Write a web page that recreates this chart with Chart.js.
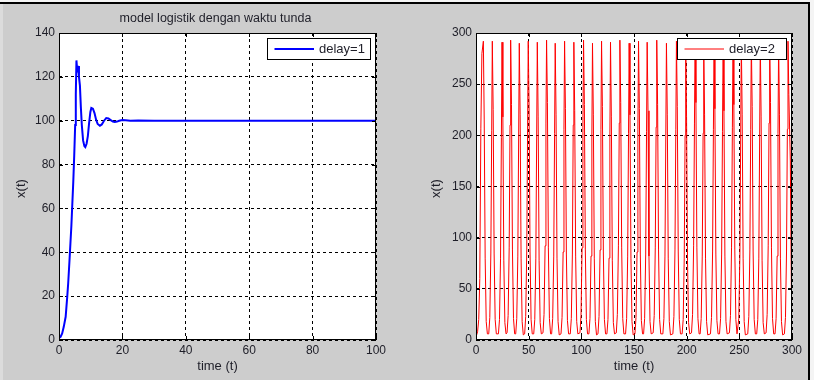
<!DOCTYPE html>
<html>
<head>
<meta charset="utf-8">
<script src="https://cdn.jsdelivr.net/npm/chart.js@4.4.1/dist/chart.umd.min.js"></script>
<style>
  html, body { margin: 0; padding: 0; }
  body { width: 814px; height: 380px; background: #cdcdcd; position: relative; overflow: hidden; font-family: "Liberation Sans", Arial, sans-serif; }
  #topwhite { position: absolute; left: 0; top: 0; width: 814px; height: 2px; background: #f4f4f4; }
  #topline { position: absolute; left: 0; top: 2px; width: 810px; height: 2px; background: #000; }
  #leftstrip { position: absolute; left: 0; top: 4px; width: 3px; height: 376px; background: #dcdcdc; }
  #rightline { position: absolute; left: 808px; top: 2px; width: 2px; height: 378px; background: #000; }
  #rightwhite { position: absolute; left: 810px; top: 0; width: 4px; height: 380px; background: #f4f4f4; }
  .pane { position: absolute; top: 0; height: 380px; }
</style>
</head>
<body>
<div id="topwhite"></div><div id="topline"></div><div id="leftstrip"></div>
<div id="rightline"></div><div id="rightwhite"></div>
<div class="pane" style="left:0;width:400px"><canvas id="c1" width="400" height="380"></canvas></div>
<div class="pane" style="left:400px;width:408px"><canvas id="c2" width="408" height="380"></canvas></div>
<script>
// ---------- DATA ----------
const title1 = "model logistik dengan waktu tunda";
const xLabel = "time (t)";
const yLabel = "x(t)";
const legend1 = "delay=1";
const legend2 = "delay=2";

const xTicks1 = [0, 20, 40, 60, 80, 100];
const yTicks1 = [0, 20, 40, 60, 80, 100, 120, 140];
const xTicks2 = [0, 50, 100, 150, 200, 250, 300];
const yTicks2 = [0, 50, 100, 150, 200, 250, 300];

// delay = 1
const time1 = [0, 0.5, 1.0, 1.5, 2.1, 2.6, 2.9, 3.3, 3.6, 3.9, 4.2, 4.5, 4.8, 5.1, 5.3, 5.5,
  5.8, 6.0, 6.3, 6.6, 6.9, 7.2, 7.6, 8.0, 8.3, 8.7, 9.1, 9.5, 9.9, 10.2, 10.7, 11.2, 11.7,
  12.2, 12.9, 13.5, 14.2, 14.9, 15.6, 16.3, 17.0, 17.6, 18.3, 19.0, 20.0, 21.0, 22.5, 25.0,
  30, 40, 50, 60, 70, 80, 90, 100];
const x1 = [1, 1.5, 3, 6, 10.6, 19.8, 25.9, 36, 44, 52, 62, 72, 84, 98, 112, 127.5,
  122, 125, 120, 116, 106, 98, 91, 88.5, 88, 89.5, 93, 99, 104, 105.8, 105.5, 103.5, 100.5,
  98.5, 97.7, 98.3, 100, 101.2, 101, 100.3, 99.6, 99.4, 99.6, 100, 100.3, 100.2, 100, 100.1,
  100, 100, 100, 100, 100, 100, 100, 100];

// delay = 2
const time2 = [
  0, 1.5, 2.6, 3.6, 4.6, 5.6, 7.0, 7.8, 8.7, 9.7, 10.8,
  12.1, 13.1, 14.1, 14.9, 15.5, 16.3, 17.2, 18.2, 19.3,
  21.3, 22.3, 23.3, 24.1, 24.7, 25.5, 26.4, 27.4, 28.5,
  29.5, 30.5, 31.5, 32.3, 32.9, 33.7, 34.6, 35.6, 36.7,
  37.7, 38.7, 39.7, 40.5, 41.1, 41.9, 42.8, 43.8, 44.9,
  46.2, 47.2, 48.2, 49.0, 49.6, 50.4, 51.3, 52.3, 53.4,
  54.8, 55.8, 56.8, 57.6, 58.2, 59.0, 59.9, 60.9, 62.0,
  63.6, 64.6, 65.6, 66.4, 67.0, 67.8, 68.7, 69.7, 70.8,
  71.8, 72.8, 73.8, 74.6, 75.2, 76.0, 76.9, 77.9, 79.0,
  80.7, 81.7, 82.7, 83.5, 84.1, 84.9, 85.8, 86.8, 87.9,
  89.5, 90.5, 91.5, 92.3, 92.9, 93.7, 94.6, 95.6, 96.7,
  98.7, 99.7, 100.7, 101.5, 102.1, 102.9, 103.8, 104.8, 105.9,
  107.2, 108.2, 109.2, 110.0, 110.6, 111.4, 112.3, 113.3, 114.4,
  115.8, 116.8, 117.8, 118.6, 119.2, 120.0, 120.9, 121.9, 123.0,
  124.3, 125.3, 126.3, 127.1, 127.7, 128.5, 129.4, 130.4, 131.5,
  133.2, 134.2, 135.2, 136.0, 136.6, 137.4, 138.3, 139.3, 140.4,
  142.0, 143.0, 144.0, 144.8, 145.4, 146.2, 147.1, 148.1, 149.2,
  150.9, 151.9, 152.9, 153.7, 154.3, 155.1, 156.0, 157.0, 158.1,
  159.1, 160.1, 161.1, 161.9, 162.5, 163.3, 164.2, 165.2, 166.3,
  168.2, 169.2, 170.2, 171.0, 171.6, 172.4, 173.3, 174.3, 175.4,
  177.4, 178.4, 179.4, 180.2, 180.8, 181.6, 182.5, 183.5, 184.6,
  186.9, 187.9, 188.9, 189.7, 190.3, 191.1, 192.0, 193.0, 194.1,
  195.7, 196.7, 197.7, 198.5, 199.1, 199.9, 200.8, 201.8, 202.9,
  204.6, 205.6, 206.6, 207.4, 208.0, 208.8, 209.7, 210.7, 211.8,
  212.8, 213.8, 214.8, 215.6, 216.2, 217.0, 217.9, 218.9, 220.0,
  222.6, 223.6, 224.6, 225.4, 226.0, 226.8, 227.7, 228.7, 229.8,
  231.2, 232.2, 233.2, 234.0, 234.6, 235.4, 236.3, 237.3, 238.4,
  240.6, 241.6, 242.6, 243.4, 244.0, 244.8, 245.7, 246.7, 247.8,
  248.5, 249.5, 250.5, 251.3, 251.9, 252.7, 253.6, 254.6, 255.7,
  258.0, 259.0, 260.0, 260.8, 261.4, 262.2, 263.1, 264.1, 265.2,
  266.5, 267.5, 268.5, 269.3, 269.9, 270.7, 271.6, 272.6, 273.7,
  275.4, 276.4, 277.4, 278.2, 278.8, 279.6, 280.5, 281.5, 282.6,
  283.9, 284.9, 285.9, 286.7, 287.3, 288.1, 289.0, 290.0, 291.1,
  292.8, 293.8, 294.8, 295.6, 296.2, 297.0, 298.4, 299.4, 300.0];
const x2 = [
  3, 8, 20, 60, 207, 280, 292, 215, 80, 18, 6,
  6, 22, 85, 205, 292, 225, 85, 20, 6,
  6, 20, 80, 198, 291, 218, 78, 17, 6,
  7, 24, 90, 210, 293, 230, 88, 21, 6,
  6, 21, 82, 200, 290, 220, 80, 18, 5,
  6, 23, 88, 210, 292, 228, 86, 20, 6,
  6, 20, 80, 200, 291, 218, 78, 17, 6,
  7, 25, 92, 212, 293, 232, 90, 21, 6,
  6, 21, 82, 202, 290, 220, 80, 18, 5,
  6, 22, 86, 206, 292, 226, 84, 19, 6,
  6, 21, 84, 210, 291, 224, 82, 18, 6,
  7, 24, 90, 208, 293, 230, 88, 20, 6,
  6, 21, 82, 200, 290, 220, 80, 18, 5,
  6, 23, 88, 206, 292, 228, 86, 20, 6,
  6, 20, 80, 200, 291, 218, 78, 17, 6,
  7, 25, 92, 212, 293, 232, 90, 21, 6,
  6, 21, 82, 202, 290, 220, 80, 18, 5,
  6, 22, 86, 206, 292, 226, 84, 19, 6,
  6, 21, 84, 204, 291, 224, 82, 18, 6,
  7, 24, 90, 208, 293, 230, 88, 20, 6,
  6, 21, 82, 200, 290, 220, 80, 18, 5,
  6, 23, 88, 206, 292, 228, 86, 20, 6,
  6, 20, 80, 200, 291, 218, 78, 17, 6,
  7, 25, 92, 212, 293, 232, 90, 21, 6,
  6, 21, 82, 202, 290, 220, 80, 18, 5,
  6, 22, 86, 206, 292, 226, 84, 19, 6,
  6, 21, 84, 204, 291, 224, 82, 18, 6,
  7, 24, 90, 208, 293, 230, 88, 20, 6,
  6, 21, 82, 200, 290, 220, 80, 18, 5,
  6, 23, 88, 206, 292, 228, 86, 20, 6,
  6, 20, 80, 200, 291, 218, 78, 17, 6,
  7, 25, 92, 212, 293, 232, 90, 21, 6,
  6, 21, 82, 202, 290, 220, 80, 18, 5,
  6, 22, 86, 206, 292, 240, 175, 50, 45];

// ---------- DRAWING ----------
const FONT = '"Liberation Sans", Arial, sans-serif';
const TXT = '#1e1e28';

function pts(ts, xs) { return ts.map((t, i) => ({ x: t, y: xs[i] })); }

function matlabPlugin(opts) {
  return {
    id: 'matlab',
    beforeDraw(chart) {
      const a = chart.chartArea, ctx = chart.ctx;
      ctx.save();
      ctx.fillStyle = '#ffffff';
      ctx.fillRect(a.left, a.top, a.right - a.left, a.bottom - a.top);
      ctx.restore();
    },
    afterDraw(chart) {
      const a = chart.chartArea, ctx = chart.ctx;
      const xs = chart.scales.x, ys = chart.scales.y;
      ctx.save();
      // box
      ctx.strokeStyle = '#000'; ctx.lineWidth = 1; ctx.setLineDash([]);
      ctx.strokeRect(Math.round(a.left) + 0.5, Math.round(a.top) + 0.5,
        Math.round(a.right - a.left) - 1, Math.round(a.bottom - a.top) - 1);
      // inward ticks
      ctx.beginPath();
      opts.xTicks.forEach(v => {
        const px = Math.round(xs.getPixelForValue(v)) + 0.5;
        ctx.moveTo(px, a.bottom); ctx.lineTo(px, a.bottom - 4);
        ctx.moveTo(px, a.top); ctx.lineTo(px, a.top + 4);
      });
      opts.yTicks.forEach(v => {
        const py = Math.round(ys.getPixelForValue(v)) + 0.5;
        ctx.moveTo(a.left, py); ctx.lineTo(a.left + 4, py);
        ctx.moveTo(a.right, py); ctx.lineTo(a.right - 4, py);
      });
      ctx.stroke();
      // axis titles
      ctx.fillStyle = TXT;
      ctx.font = '13px ' + FONT;
      ctx.textAlign = 'center'; ctx.textBaseline = 'middle';
      ctx.fillText(xLabel, (a.left + a.right) / 2, 366);
      ctx.save();
      ctx.translate(opts.yLabelX, (a.top + a.bottom) / 2 + 2);
      ctx.rotate(-Math.PI / 2);
      ctx.fillText(yLabel, 0, 0);
      ctx.restore();
      if (opts.title) {
        ctx.font = '12.5px ' + FONT;
        ctx.fillText(opts.title, (a.left + a.right) / 2 - 2, 19);
      }
      // legend
      const lx0 = a.right - opts.legW - 6, ly0 = a.top + 5, lh = 21;
      ctx.fillStyle = '#fff';
      ctx.fillRect(lx0, ly0, opts.legW, lh);
      ctx.strokeStyle = '#000'; ctx.lineWidth = 1;
      ctx.strokeRect(Math.round(lx0) + 0.5, Math.round(ly0) + 0.5, opts.legW, lh);
      ctx.beginPath();
      ctx.strokeStyle = opts.color; ctx.lineWidth = opts.lw;
      ctx.moveTo(lx0 + 7.5, ly0 + 11); ctx.lineTo(lx0 + 47, ly0 + 11);
      ctx.stroke();
      ctx.fillStyle = TXT; ctx.font = '13px ' + FONT;
      ctx.textAlign = 'left';
      ctx.fillText(opts.legend, lx0 + 52, ly0 + 11.5);
      ctx.restore();
    }
  };
}

function makeChart(id, data, color, lw, xmax, ymax, xstep, ystep, yAxisW, padRight, plug) {
  return new Chart(document.getElementById(id), {
    type: 'scatter',
    data: { datasets: [{ data: data, showLine: true, borderColor: color, borderWidth: lw,
      pointRadius: 0, pointHoverRadius: 0, tension: 0, fill: false }] },
    options: {
      responsive: false, animation: false, devicePixelRatio: 1,
      layout: { padding: { left: 0, right: padRight, top: 33, bottom: 0 } },
      plugins: { legend: { display: false }, tooltip: { enabled: false } },
      scales: {
        x: {
          type: 'linear', min: 0, max: xmax,
          afterFit(s) { s.height = 40; },
          ticks: { stepSize: xstep, color: TXT, font: { family: FONT, size: 12 }, padding: 3, maxRotation: 0 },
          grid: { color: '#000', lineWidth: 1, drawTicks: false },
          border: { display: false, dash: [3, 3] }
        },
        y: {
          type: 'linear', min: 0, max: ymax,
          afterFit(s) { s.width = yAxisW; },
          ticks: { stepSize: ystep, color: TXT, font: { family: FONT, size: 12 }, padding: 4 },
          grid: { color: '#000', lineWidth: 1, drawTicks: false },
          border: { display: false, dash: [3, 3] }
        }
      }
    },
    plugins: [plug]
  });
}

makeChart('c1', pts(time1, x1), '#0000ff', 2, 100, 140, 20, 20, 59, 24,
  matlabPlugin({ xTicks: xTicks1, yTicks: yTicks1, title: title1, legend: legend1,
    color: '#0000ff', lw: 2, legW: 103, yLabelX: 21 }));
makeChart('c2', pts(time2, x2), '#ff0000', 1, 300, 300, 50, 50, 76, 16,
  matlabPlugin({ xTicks: xTicks2, yTicks: yTicks2, title: null, legend: legend2,
    color: '#ff0000', lw: 1, legW: 109, yLabelX: 36 }));
</script>
</body>
</html>
